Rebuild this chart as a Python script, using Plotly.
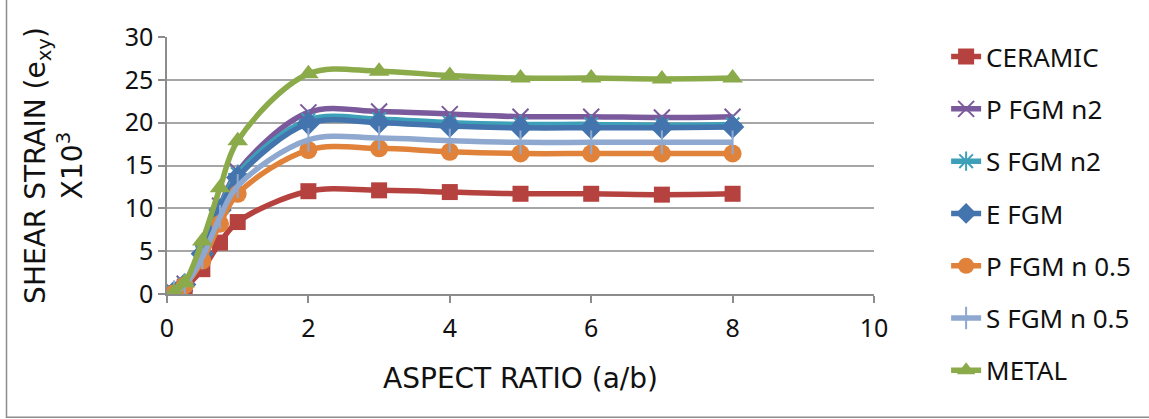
import plotly.graph_objects as go

# Aspect ratio (a/b) sample points
aspect_ratio = [0.1, 0.25, 0.5, 0.75, 1, 2, 3, 4, 5, 6, 7, 8]

# Shear strain (exy) x10^3 for each material
ceramic = [0.1, 0.8, 2.9, 6.0, 8.4, 12.0, 12.1, 11.9, 11.7, 11.7, 11.6, 11.7]
p_fgm_n2 = [0.2, 1.2, 5.0, 10.3, 14.3, 21.2, 21.3, 21.0, 20.7, 20.7, 20.6, 20.7]
s_fgm_n2 = [0.2, 1.1, 4.8, 10.0, 14.0, 20.3, 20.4, 20.0, 19.8, 19.8, 19.7, 19.8]
e_fgm = [0.2, 1.1, 4.7, 9.8, 13.6, 19.9, 20.0, 19.6, 19.4, 19.4, 19.4, 19.5]
p_fgm_n05 = [0.1, 1.0, 3.9, 8.2, 11.7, 16.8, 17.0, 16.6, 16.4, 16.4, 16.4, 16.4]
s_fgm_n05 = [0.2, 1.0, 4.3, 9.0, 12.6, 18.0, 18.2, 17.9, 17.7, 17.7, 17.7, 17.7]
metal = [0.2, 1.3, 6.2, 12.4, 17.9, 25.7, 26.0, 25.5, 25.2, 25.2, 25.1, 25.2]

x_ticks = [0, 2, 4, 6, 8, 10]
y_ticks = [0, 5, 10, 15, 20, 25, 30]

series = [
    ("CERAMIC", ceramic, "#B5423F", "square", 16, 0),
    ("P FGM n2", p_fgm_n2, "#7A5A9C", "x-thin-open", 16, 2),
    ("S FGM n2", s_fgm_n2, "#3DA0B8", "asterisk-open", 16, 2),
    ("E FGM", e_fgm, "#4474AD", "diamond", 18, 0),
    ("P FGM n 0.5", p_fgm_n05, "#E0823A", "circle", 18, 0),
    ("S FGM n 0.5", s_fgm_n05, "#8EA8D0", "line-ns-open", 17, 2),
    ("METAL", metal, "#8BAA4A", "triangle-up", 18, 0),
]

FONT = "Noto Sans"
TITLE_FONT = "DejaVu Sans"

fig = go.Figure()
for i, (name, vals, color, symbol, size, mlw) in enumerate(series):
    fig.add_trace(go.Scatter(
        x=aspect_ratio, y=vals, name=name,
        mode="lines+markers",
        line=dict(color=color, width=5.5, shape="spline", smoothing=1.0),
        marker=dict(symbol=symbol, size=size, color=color,
                    line=dict(color=color, width=mlw)),
        legendgroup=f"g{i}",
    ))

fig.update_layout(
    width=1149, height=419,
    margin=dict(l=167, r=275, t=37, b=125),
    paper_bgcolor="white", plot_bgcolor="white",
    font=dict(family=FONT, size=25, color="#111111"),
    showlegend=True,
    legend=dict(
        x=1.102, y=1.015, xanchor="left", yanchor="top",
        traceorder="grouped", tracegroupgap=15.5, maxheight=419,
        font=dict(family=FONT, size=26, color="#111111"),
        itemwidth=30, bgcolor="rgba(0,0,0,0)",
    ),
    xaxis=dict(
        range=[0, 10], tickvals=x_ticks, ticktext=[str(v) for v in x_ticks],
        showgrid=False, zeroline=False,
        showline=True, linecolor="#8C8C8C", linewidth=1.5,
        ticks="outside", ticklen=7, tickcolor="#8C8C8C", tickwidth=1.5,
        ticklabelstandoff=4,
        tickfont=dict(family=FONT, size=25),
        title=dict(text="ASPECT RATIO (a/b)", font=dict(family=TITLE_FONT, size=28), standoff=26),
    ),
    yaxis=dict(
        range=[0, 30], tickvals=y_ticks, ticktext=[str(v) for v in y_ticks],
        showgrid=True, gridcolor="#A6A6A6", gridwidth=1.5,
        zeroline=False,
        showline=True, linecolor="#8C8C8C", linewidth=1.5,
        ticks="outside", ticklen=7, tickcolor="#8C8C8C", tickwidth=1.5,
        tickfont=dict(family=FONT, size=25),
        title=dict(text="SHEAR STRAIN (e<sub>xy</sub>)<br>X10<sup>3</sup>",
                   font=dict(family=TITLE_FONT, size=28), standoff=34),
    ),
    shapes=[dict(type="rect", xref="paper", yref="paper",
                 x0=-0.227, x1=1.39, y0=-0.48, y1=1.16,
                 line=dict(color="#8C8C8C", width=1.5))],
)

fig.write_html("out.html")
